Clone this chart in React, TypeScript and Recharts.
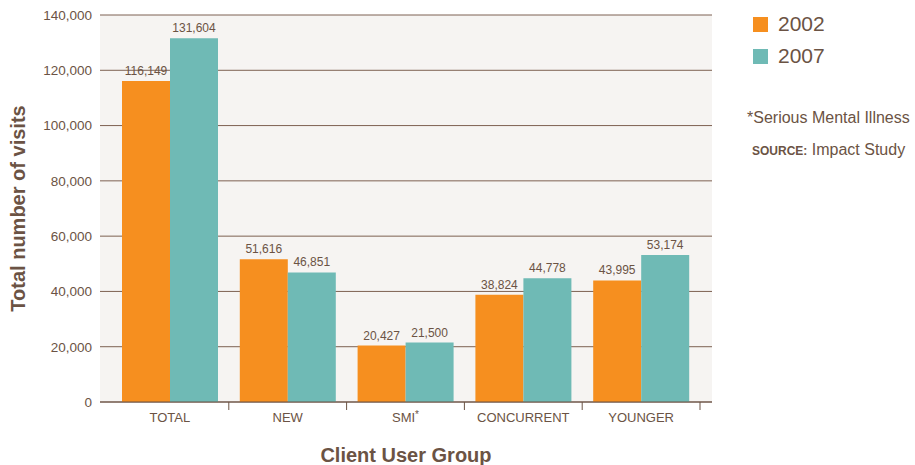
import React from 'react';
import {
  BarChart,
  Bar,
  XAxis,
  YAxis,
  CartesianGrid,
  LabelList,
  Label
} from 'recharts';

const groups = ['TOTAL', 'NEW', 'SMI*', 'CONCURRENT', 'YOUNGER'];
const visits2002 = [116149, 51616, 20427, 38824, 43995];
const visits2007 = [131604, 46851, 21500, 44778, 53174];
const yTicks = [0, 20000, 40000, 60000, 80000, 100000, 120000, 140000];

const ORANGE = '#f68f1f';
const TEAL = '#6fbab5';
const BROWN = '#6b5344';
const FONT = '"Liberation Sans", Arial, Helvetica, sans-serif';

const data = groups.map((g, i) => ({
  group: g,
  y2002: visits2002[i],
  y2007: visits2007[i]
}));

const fmt = (v: any) => Number(v).toLocaleString('en-US');

// category label in the middle, tick mark on the right boundary of each band
const GroupTick = ({ x, y, payload }: any) => {
  const half = payload && payload.offset ? payload.offset : 59;
  const name: string = payload.value;
  const star = name.endsWith('*');
  const base = star ? name.slice(0, -1) : name;
  return (
    <g>
      <line x1={x + half} x2={x + half} y1={y - 8} y2={y} stroke={BROWN} strokeWidth={1} />
      <text x={x} y={y + 12} textAnchor="middle" fill={BROWN} fontSize={13} fontFamily={FONT}>
        {base}
        {star && (
          <tspan fontSize={10} dy={-4}>*</tspan>
        )}
      </text>
    </g>
  );
};

export default function App() {
  return (
    <div style={{ position: 'relative', width: 915, height: 465, fontFamily: FONT }}>
      <style>{'body{margin:0}'}</style>
      <BarChart
        width={915}
        height={465}
        data={data}
        margin={{ top: 15, right: 203, left: 0, bottom: 0 }}
        barCategoryGap={11}
        barGap={0}
      >
        <CartesianGrid vertical={false} stroke="#7d6152" fill="#f6f4f2" />
        <XAxis
          dataKey="group"
          height={63}
          padding={{ left: 11, right: 12 }}
          axisLine={{ stroke: BROWN, strokeWidth: 1.2 }}
          tickLine={false}
          tick={<GroupTick />}
          interval={0}
        >
          <Label
            value="Client User Group"
            position="insideBottom"
            offset={3}
            fill={BROWN}
            fontSize={20}
            fontWeight="bold"
            fontFamily={FONT}
          />
        </XAxis>
        <YAxis
          width={100}
          domain={[0, 140000]}
          ticks={yTicks}
          axisLine={false}
          tickLine={false}
          tickMargin={2}
          tickFormatter={fmt}
          tick={{ fill: BROWN, fontSize: 13.5, fontFamily: FONT }}
        >
          <Label
            value="Total number of visits"
            angle={-90}
            position="insideLeft"
            offset={18}
            style={{ textAnchor: 'middle' }}
            fill={BROWN}
            fontSize={20}
            fontWeight="bold"
            fontFamily={FONT}
          />
        </YAxis>
        <Bar dataKey="y2002" fill={ORANGE} isAnimationActive={false}>
          <LabelList dataKey="y2002" position="top" offset={6} formatter={fmt} fill={BROWN} fontSize={12} fontFamily={FONT} />
        </Bar>
        <Bar dataKey="y2007" fill={TEAL} isAnimationActive={false}>
          <LabelList dataKey="y2007" position="top" offset={6} formatter={fmt} fill={BROWN} fontSize={12} fontFamily={FONT} />
        </Bar>
      </BarChart>

      <div style={{ position: 'absolute', left: 753, top: 8, color: BROWN }}>
        <div style={{ display: 'flex', alignItems: 'center', height: 32 }}>
          <span style={{ width: 15, height: 15, background: ORANGE, display: 'inline-block' }} />
          <span style={{ marginLeft: 10, fontSize: 21 }}>2002</span>
        </div>
        <div style={{ display: 'flex', alignItems: 'center', height: 32 }}>
          <span style={{ width: 15, height: 15, background: TEAL, display: 'inline-block' }} />
          <span style={{ marginLeft: 10, fontSize: 21 }}>2007</span>
        </div>
      </div>
      <div style={{ position: 'absolute', left: 747, top: 109, color: BROWN, fontSize: 16, whiteSpace: 'nowrap' }}>
        *Serious Mental Illness
      </div>
      <div style={{ position: 'absolute', left: 752, top: 141, color: BROWN, fontSize: 16, whiteSpace: 'nowrap' }}>
        <span style={{ fontWeight: 'bold', fontSize: 12 }}>SOURCE:</span> Impact Study
      </div>
    </div>
  );
}
